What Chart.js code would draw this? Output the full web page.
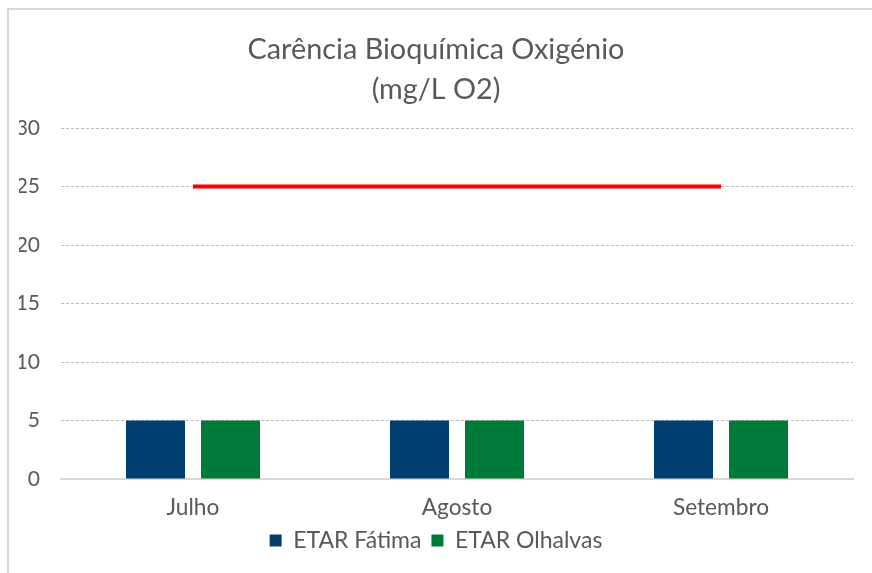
<!DOCTYPE html>
<html>
<head>
<meta charset="utf-8">
<script src="https://cdn.jsdelivr.net/npm/chart.js@4/dist/chart.umd.min.js"></script>
<style>
  html, body { margin: 0; padding: 0; background: #fff; }
  #wrap { position: relative; width: 872px; height: 573px; }
  #frame { position: absolute; left: 7px; top: 8px; right: 0; bottom: 0;
           border-left: 2px solid #d9d9d9; border-top: 2px solid #d9d9d9; }
  #chart { position: absolute; left: 0; top: 0; }
</style>
</head>
<body>
<div id="wrap">
  <div id="frame"></div>
  <canvas id="chart" width="872" height="573"></canvas>
</div>
<script>
// Carência Bioquímica de Oxigénio, mg/L O2
const months = ['Julho', 'Agosto', 'Setembro'];
const fatima = [5, 5, 5];
const olhalvas = [5, 5, 5];
const limite = [25, 25, 25];
const yTicks = [0, 5, 10, 15, 20, 25, 30];

const textColor = '#595959';
const fontFamily = 'Lato, "Open Sans", sans-serif';

document.addEventListener('DOMContentLoaded', () => {
    const ctx = document.getElementById('chart').getContext('2d');
    new Chart(ctx, {
        type: 'bar',
        data: {
            labels: months,
            datasets: [
                {
                    type: 'line',
                    label: 'Limite',
                    data: limite,
                    borderColor: '#ff0000',
                    borderWidth: 4,
                    pointRadius: 0,
                    fill: false,
                    order: 0
                },
                {
                    label: 'ETAR Fátima',
                    data: fatima,
                    backgroundColor: '#003f6f',
                    categoryPercentage: 0.568,
                    barPercentage: 0.787,
                    order: 1
                },
                {
                    label: 'ETAR Olhalvas',
                    data: olhalvas,
                    backgroundColor: '#007a38',
                    categoryPercentage: 0.568,
                    barPercentage: 0.787,
                    order: 1
                }
            ]
        },
        options: {
            responsive: false,
            animation: false,
            layout: { padding: { left: 19, right: 19, top: 0, bottom: 11 } },
            plugins: {
                title: {
                    display: true,
                    text: ['Carência Bioquímica Oxigénio', '(mg/L O2)'],
                    color: textColor,
                    font: { family: fontFamily, size: 28.8, weight: 'normal', lineHeight: 1.39 },
                    padding: { top: 30, bottom: 18 }
                },
                legend: {
                    position: 'bottom',
                    labels: {
                        color: textColor,
                        font: { family: fontFamily, size: 23, lineHeight: 1 },
                        boxWidth: 12,
                        boxHeight: 12,
                        padding: 10,
                        filter: item => item.text !== 'Limite'
                    }
                },
                tooltip: { enabled: false }
            },
            scales: {
                x: {
                    grid: { display: false, drawTicks: false },
                    border: { display: true, color: '#d9d9d9', width: 2 },
                    ticks: { color: textColor, font: { family: fontFamily, size: 22.7, lineHeight: 1 }, padding: 17 },
                    afterFit: scale => { scale.height = 40; }
                },
                y: {
                    min: 0,
                    max: 30,
                    afterBuildTicks: scale => { scale.ticks = yTicks.map(v => ({ value: v })); },
                    afterFit: scale => { scale.width = 42; },
                    grid: {
                        color: c => (c.tick && c.tick.value === 0) ? 'rgba(0,0,0,0)' : '#bfbfbf',
                        lineWidth: 1,
                        drawTicks: false
                    },
                    border: { display: false, dash: [3, 2] },
                    ticks: { color: textColor, font: { family: fontFamily, size: 21 }, padding: 21 }
                }
            }
        }
    });
});
</script>
</body>
</html>
